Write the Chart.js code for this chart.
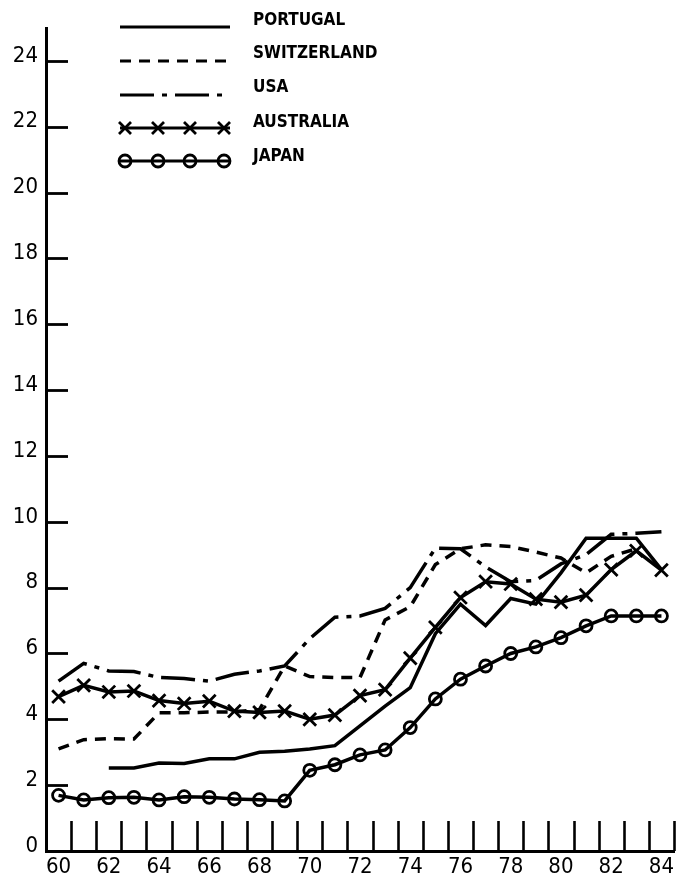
<!DOCTYPE html>
<html>
<head>
<meta charset="utf-8">
<script src="https://cdn.jsdelivr.net/npm/chart.js@4/dist/chart.umd.min.js"></script>
<style>
  html, body { margin: 0; padding: 0; background: #fff; }
  canvas { display: block; }
</style>
</head>
<body>
<canvas id="c" width="691" height="883"></canvas>
<script>
// ---- data ----
const years = [60,61,62,63,64,65,66,67,68,69,70,71,72,73,74,75,76,77,78,79,80,81,82,83,84];
const xTickLabels = [60,62,64,66,68,70,72,74,76,78,80,82,84];
const yTickValues = [0,2,4,6,8,10,12,14,16,18,20,22,24];

const portugal    = [null,null,2.52,2.52,2.67,2.66,2.80,2.80,3.00,3.03,3.10,3.20,3.80,4.40,4.96,6.60,7.50,6.85,7.67,7.50,8.45,9.50,9.50,9.50,8.55];
const switzerland = [3.10,3.38,3.41,3.40,4.20,4.20,4.22,4.22,4.30,5.62,5.30,5.27,5.27,7.02,7.42,8.70,9.18,9.30,9.25,9.08,8.90,8.45,8.95,9.18,null];
const usa         = [5.16,5.70,5.47,5.45,5.27,5.24,5.16,5.37,5.47,5.62,6.45,7.10,7.14,7.37,8.00,9.20,9.18,8.63,8.18,8.22,8.72,9.00,9.62,9.65,9.70];
const australia   = [4.69,5.03,4.83,4.86,4.57,4.48,4.55,4.25,4.21,4.25,4.00,4.13,4.72,4.90,5.86,6.79,7.70,8.18,8.11,7.65,7.56,7.77,8.55,9.12,8.53];
const japan       = [1.69,1.55,1.62,1.63,1.55,1.65,1.63,1.58,1.56,1.52,2.45,2.62,2.92,3.07,3.75,4.62,5.22,5.62,6.00,6.20,6.48,6.84,7.14,7.14,7.14];

const seriesNames = ['PORTUGAL','SWITZERLAND','USA','AUSTRALIA','JAPAN'];

const toPts = arr => years.map((yr, i) => ({x: yr, y: arr[i]})).filter(p => p.y !== null);

const FONT = '"DejaVu Sans Condensed", "DejaVu Sans", sans-serif';
const INK = '#000';

const base = {borderColor: INK, borderWidth: 3.5, pointRadius: 0, tension: 0, fill: false};

const datasets = [
  Object.assign({}, base, {label: seriesNames[0], data: toPts(portugal)}),
  Object.assign({}, base, {label: seriesNames[1], data: toPts(switzerland), borderDash: [11, 8]}),
  Object.assign({}, base, {label: seriesNames[2], data: toPts(usa), borderDash: [34, 8, 5, 8]}),
  Object.assign({}, base, {label: seriesNames[3], data: toPts(australia),
      pointStyle: 'crossRot', pointRadius: 9, pointBorderWidth: 2.8, pointBorderColor: INK}),
  Object.assign({}, base, {label: seriesNames[4], data: toPts(japan),
      pointStyle: 'circle', pointRadius: 6, pointBorderWidth: 2.8, pointBorderColor: INK,
      pointBackgroundColor: 'rgba(0,0,0,0)'})
];

// draws inward axis tick marks and the hand-laid legend, using the chart's scales/datasets
const decor = {
  id: 'decor',
  afterDraw(chart) {
    const ctx = chart.ctx;
    const xs = chart.scales.x, ys = chart.scales.y;
    const area = chart.chartArea;
    ctx.save();
    ctx.strokeStyle = INK;
    ctx.lineCap = 'butt';
    // y tick marks (inward)
    ctx.lineWidth = 2.8;
    ys.ticks.forEach(t => {
      if (t.value === 0) return;
      const py = Math.round(ys.getPixelForValue(t.value)) + 0.5;
      ctx.beginPath();
      ctx.moveTo(area.left, py);
      ctx.lineTo(area.left + 22, py);
      ctx.stroke();
    });
    // x tick marks (year boundaries, inward)
    ctx.lineWidth = 2.6;
    years.forEach(yr => {
      const px = Math.round(xs.getPixelForValue(yr + 0.5)) + 0.5;
      ctx.beginPath();
      ctx.moveTo(px, area.bottom);
      ctx.lineTo(px, area.bottom - 30);
      ctx.stroke();
    });
    // legend
    const rowsLineY = [27, 61, 95, 128, 161];
    const rowsTextY = [21, 54, 88, 123, 157];
    const x0 = 120, x1 = 230, tx = 253;
    const markerXs = [125, 158, 190, 224];
    chart.data.datasets.forEach((ds, i) => {
      const ly = rowsLineY[i];
      ctx.lineWidth = 3.2;
      ctx.setLineDash(ds.borderDash || []);
      ctx.beginPath();
      ctx.moveTo(x0, ly);
      ctx.lineTo(x1, ly);
      ctx.stroke();
      ctx.setLineDash([]);
      if (ds.pointStyle === 'crossRot') {
        ctx.lineWidth = 2.8;
        markerXs.forEach(mx => {
          ctx.beginPath();
          ctx.moveTo(mx - 6, ly - 6); ctx.lineTo(mx + 6, ly + 6);
          ctx.moveTo(mx - 6, ly + 6); ctx.lineTo(mx + 6, ly - 6);
          ctx.stroke();
        });
      } else if (ds.pointStyle === 'circle') {
        ctx.lineWidth = 2.8;
        markerXs.forEach(mx => {
          ctx.beginPath();
          ctx.arc(mx, ly, 6, 0, Math.PI * 2);
          ctx.stroke();
        });
      }
      ctx.fillStyle = INK;
      ctx.font = 'bold 17px ' + FONT;
      ctx.textBaseline = 'middle';
      ctx.textAlign = 'left';
      ctx.fillText(ds.label, tx, rowsTextY[i]);
    });
    ctx.restore();
  }
};

new Chart(document.getElementById('c'), {
  type: 'line',
  data: {datasets},
  options: {
    responsive: false,
    animation: false,
    layout: {padding: {top: 28, right: 17, left: 0, bottom: 0}},
    plugins: {legend: {display: false}, tooltip: {enabled: false}},
    scales: {
      x: {
        type: 'linear',
        min: years[0] - 0.5,
        max: years[years.length - 1] + 0.5,
        afterBuildTicks: s => { s.ticks = xTickLabels.map(v => ({value: v})); },
        afterFit: s => { s.height = 32; },
        grid: {drawOnChartArea: false, drawTicks: false},
        border: {display: true, color: INK, width: 3},
        ticks: {color: INK, font: {family: FONT, size: 22}, padding: 3, maxRotation: 0, autoSkip: false}
      },
      y: {
        type: 'linear',
        min: 0,
        max: 25,
        afterBuildTicks: s => { s.ticks = yTickValues.map(v => ({value: v})); },
        afterFit: s => { s.width = 46; },
        grid: {drawOnChartArea: false, drawTicks: false},
        border: {display: true, color: INK, width: 3},
        ticks: {color: INK, font: {family: FONT, size: 22}, padding: 8, labelOffset: -5, autoSkip: false}
      }
    }
  },
  plugins: [decor]
});
</script>
</body>
</html>
